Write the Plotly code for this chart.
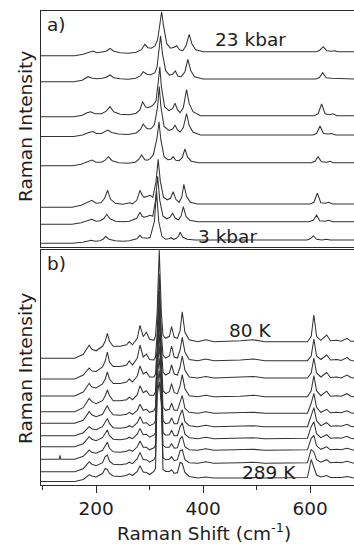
import plotly.graph_objects as go

# ---------------- Panel a) : pressure series (top = 23 kbar, bottom = 3 kbar) ----------------
a_names = ["23 kbar", "p2", "p3", "p4", "p5", "p6", "p7", "3 kbar"]
a_offset = [191.3, 165.3, 130.3, 110.5, 81.3, 39.7, 22.7, 3.7]
a_shift = [
    [97, 160, 176, 186, 194, 202, 211, 219, 226, 233, 245, 260, 275, 285, 291, 297, 303, 310, 315, 319, 322.5, 326, 332, 339, 346, 350.5, 356, 362, 368, 374, 379, 386, 400, 612, 618, 624.5, 631, 640, 646, 652, 682],
    [97, 158, 174, 185, 193, 202, 211, 219, 226, 233, 245, 260, 274, 283, 288, 295, 302, 310, 314, 317.5, 320.5, 324, 330, 337, 343, 348, 353, 359, 366, 371.5, 377, 384, 400, 610, 617, 623.5, 630, 640, 682],
    [97, 158, 174, 183, 190, 198, 210, 219, 226, 233, 245, 262, 275, 282, 287, 292, 296, 302, 307, 312, 316, 319, 322, 328, 336, 343, 347.5, 352, 357, 363, 369, 374, 381, 395, 608, 615, 621.5, 628, 637, 643, 650, 682],
    [97, 158, 175, 186, 194, 201, 210, 216, 222, 229, 242, 260, 275, 283, 288, 294, 298, 303, 309, 315, 318, 321, 327, 336, 343, 347.5, 352, 357, 363, 369, 374, 381, 395, 605, 612, 618.5, 625, 634, 640, 648, 682],
    [97, 156, 172, 184, 192, 200, 210, 217, 223, 230, 242, 260, 273, 280, 285, 291, 296, 301, 307, 314, 317.5, 321, 327, 334, 340, 344, 349, 355, 361, 366, 371, 378, 392, 602, 609, 615, 621, 631, 637, 644, 682],
    [97, 155, 172, 184, 192, 200, 209, 216, 221.5, 227, 236, 250, 258, 263, 268, 276, 282, 286, 290, 296, 301, 306, 312, 316, 320, 326, 333, 339, 344, 349, 355, 360, 364, 369, 376, 390, 600, 607, 613.5, 620, 629, 635, 642, 682],
    [97, 155, 172, 184, 192, 200, 208, 215, 220, 226, 236, 250, 262, 276, 282, 286, 290, 296, 301, 306, 311, 315, 319, 325, 332, 338, 343, 348, 354, 359, 363, 368, 375, 390, 598, 606, 612, 618, 628, 635, 642, 682],
    [97, 155, 175, 184, 191, 198, 207, 213, 218, 224, 236, 250, 262, 276, 282, 286, 290, 296, 301, 309, 313, 317, 323, 330, 336, 340, 345, 350, 354, 357, 362, 370, 385, 594, 600, 606, 612, 622, 630, 638, 682],
]
a_intensity = [
    [0, 0, 1.5, 3.5, 4.7, 3, 3.5, 4.5, 7.4, 4.5, 3, 2.5, 3.5, 6, 11.4, 8, 7.5, 9.7, 16, 32, 44, 30, 12, 7.5, 8.5, 10, 6, 5, 10, 21.4, 12, 6, 4, 4, 5.5, 9, 5, 4.5, 5, 4, 4],
    [0, 0, 1.5, 5, 3.5, 3, 3.5, 4.5, 6.7, 4, 3, 2.5, 3.5, 6, 10, 7.5, 7, 9, 15, 30, 46, 28, 11, 6.5, 7.5, 10.7, 5.5, 5, 10, 22.4, 11, 5, 2.7, 2.7, 4, 9, 4, 3.5, 2.7],
    [0, 0, 1.5, 4, 5, 3, 3, 5.5, 10, 5, 2.5, 2, 3.5, 7, 15, 10, 9, 10, 12, 16, 34, 50, 30, 10, 6, 8, 13.4, 7, 4, 9, 27, 13, 5, 1, 1, 3, 12.7, 3, 2, 3, 1, 1],
    [0, 0, 1.5, 4, 5, 3, 3, 4.5, 6.5, 4, 2.5, 2, 3.5, 7, 12.5, 8.5, 7.5, 8, 12, 30, 50, 30, 10, 6, 7.5, 11.5, 6.5, 4.5, 9, 23, 11, 4.5, 1.5, 1.5, 3, 10.5, 3, 2.5, 3, 1.5, 1.5],
    [0, 0, 1.5, 4.5, 5.7, 3.5, 3.5, 5.5, 9, 5, 3, 2.5, 3.5, 6.5, 10.7, 6, 5.5, 7, 11, 28, 44, 26, 9, 6, 6.5, 9, 5.5, 5, 8, 16.7, 8.5, 4.5, 3, 3, 4.5, 9, 4, 3.5, 4.5, 3, 3],
    [0, 0, 2, 5.5, 7, 4, 4.5, 9, 17, 8, 4, 3, 3.5, 4.5, 3.5, 7, 17, 12, 10, 11, 12, 10, 26, 48, 26, 10, 7.5, 9, 15.6, 8, 5, 10, 23, 11, 5, 3.3, 3.3, 5, 14, 4.5, 4, 5, 3.3, 3.3],
    [0, 0, 1.5, 4, 5, 3, 3.5, 6, 10, 5.5, 3, 2.5, 3, 6, 12, 8, 7, 8, 9, 8, 24, 48, 24, 8, 5.5, 7, 11, 6, 4.5, 8.5, 17.6, 8, 4, 2.6, 2.6, 4, 9.3, 3.5, 3, 4, 2.6, 2.6],
    [0, 0, 1, 2.5, 3, 2, 2.5, 4, 7, 4, 2.5, 2, 2.5, 4.5, 8, 5.5, 5, 5, 6, 22, 52, 22, 7, 4, 4.5, 5.6, 4, 5, 7, 11, 6, 4, 3.3, 3.3, 4.5, 7.3, 4, 3.3, 4, 3.3, 3.3],
]

# ---------------- Panel b) : temperature series (top = 80 K, bottom = 289 K) ----------------
b_names = ["80 K", "T2", "T3", "T4", "T5", "T6", "T7", "T8", "T9", "289 K"]
b_offset = [126.2, 105.5, 88.5, 72.8, 61.2, 48.8, 37.8, 25.2, 12.8, 3.0]
b_shift = [97, 131, 132.5, 134, 160, 176, 183, 187, 192, 200, 212, 217, 221, 225, 232, 245, 257, 262, 268, 277,
           282, 288, 294, 300, 308, 311, 314, 318, 322, 325, 330, 337, 341, 346, 352, 357, 361, 366, 374, 390,
           405, 420, 470, 494, 515, 595, 602, 607, 612, 620, 631, 638, 650, 658, 669, 676, 682]
b_intensity = [
    [0, 0, 0, 0, 0, 4, 9, 13, 9, 7.5, 12, 17, 25, 17, 12, 12, 13.5, 16.7, 13.5, 20, 33, 21.6, 26, 19, 18, 22, 45, 108, 45, 23, 20, 22, 31.6, 21, 20, 28, 46.6, 26, 18.5, 16.6, 18.5, 16.6, 17.5, 18.5, 16.6, 16.6, 22, 43.3, 22, 18, 23.3, 17.5, 18, 17, 20, 17, 17],
    [0, 0, 0, 0, 0, 4, 8, 11, 8, 7.5, 12, 18, 27, 17, 12.5, 12.5, 14, 18, 14, 21, 34, 22, 25, 19.5, 19, 22, 45, 105, 45, 24, 21, 23, 33, 22, 21, 29, 41.7, 27, 19.5, 18.3, 20, 18.3, 19, 20, 18.3, 18.3, 23, 40, 23, 19.5, 24, 19, 19.5, 18.5, 21.5, 18.5, 18.3],
    [0, 0, 0, 0, 0, 4, 9, 12.7, 9, 8, 12, 17, 24, 17, 12.5, 12.5, 14, 17, 14, 20, 30, 22, 24, 19, 19, 22, 48, 105, 48, 24, 21, 23, 31, 22, 21, 29, 40, 26, 19, 18, 19.5, 18, 19, 19.5, 18, 18, 23, 38, 23, 19, 23.5, 18.5, 19, 18, 21, 18.5, 18],
    [0, 0, 0, 0, 0, 4, 10, 13.3, 10, 8, 11, 16, 21.7, 16, 11, 11, 12, 14.5, 12, 17, 26, 19, 21, 16.5, 16.5, 20, 52, 105, 52, 21, 18, 20, 28, 19, 18, 26, 37, 23, 16, 15, 16.5, 15, 15.5, 16.5, 15, 15, 21, 36, 21, 16, 20.5, 15.5, 16, 15.5, 18, 15.5, 15],
    [0, 0, 0, 0, 0, 3, 8.5, 11.7, 8.5, 6.5, 9, 14, 17.7, 13, 8.5, 8, 9, 11, 9, 13, 19, 13, 14, 11, 12.5, 16, 65, 103, 60, 16, 13, 14, 20, 13, 13, 21, 28, 15, 11, 10, 11.5, 10, 10.5, 11, 10, 10, 20, 30, 16, 11, 14, 10.5, 11, 10.5, 12.5, 10.5, 10],
    [0, 0, 0, 0, 0, 3, 7, 9, 7, 6, 9, 14, 17.3, 12, 8, 7.5, 8.5, 10, 8.5, 13, 19, 12.5, 13, 10, 12, 15, 72, 102, 66, 15, 12, 13, 18, 12, 12, 21, 26, 14, 10, 9, 10.5, 9, 9.5, 10, 9, 9, 20, 28, 15, 10, 13, 9.5, 10, 9.5, 11.5, 9.5, 9],
    [0, 0, 0, 0, 0, 3, 8, 10, 7.5, 6, 9, 14, 16.7, 11, 7.5, 7, 8, 9.5, 8, 12.5, 18.3, 12, 12.5, 9.5, 11.5, 14, 76, 101, 70, 14, 11.5, 12, 16.5, 11, 11, 20, 24, 12.5, 9, 8, 9.5, 8, 8.5, 9, 8, 8.5, 20, 25, 13, 9, 12, 8.5, 9, 8.5, 10.5, 8.5, 8],
    [0, 0, 4, 0, 0, 3, 7, 9.3, 7, 6, 9, 14, 17, 11, 7.5, 7, 8, 9.5, 8, 12.5, 18.3, 12, 12, 9.5, 11.5, 14, 80, 101, 72, 14, 12, 12, 15.5, 11, 11.5, 20.5, 23, 12.5, 9.5, 9, 10.5, 9, 9.5, 10, 9, 9.5, 21, 24, 13.5, 10, 12.5, 9.5, 10, 9.5, 11, 9.5, 9],
    [0, 0, 0, 0, 0, 3, 8, 10, 7.5, 6, 9, 15, 16.7, 10.5, 7.5, 7, 8, 9.5, 8, 13, 19.3, 12, 12, 9.5, 12, 15, 82, 101, 74, 14, 12, 12.5, 15, 11, 12, 21, 22, 12, 9, 8.5, 10, 8.5, 9, 9.5, 8.5, 9, 22, 20, 12, 9.5, 12, 9, 9.5, 9, 10.5, 9, 8.5],
    [0, 0, 0, 0, 0, 2, 5, 6.7, 5.5, 4.5, 8, 13, 12, 8, 5.5, 5, 6, 7.7, 6, 10, 15.7, 9.5, 9, 7, 10, 13, 85, 100, 76, 12, 10, 10, 11.7, 8, 9, 19, 18, 9, 5, 3.5, 4.5, 3.5, 3.5, 4, 3.5, 4, 22, 14, 6.5, 4.5, 6, 4, 4, 4, 5, 4, 3.5],
]

x_range = [97, 682]
x_tick_step = 200

# ---------------- figure ----------------
W, H = 354, 546
FONT = "DejaVu Sans, Liberation Sans, Arial, sans-serif"
LINE = "#333333"
TXT = "#1e1e1e"
FS = 18.5


def px(x):
    return x / W


def py(y):
    return 1 - y / H


fig = go.Figure()

for name, xs, ys, off in zip(a_names, a_shift, a_intensity, a_offset):
    fig.add_trace(go.Scatter(x=xs, y=[off + v for v in ys], mode="lines", name=name,
                             line=dict(color=LINE, width=1.05), xaxis="x", yaxis="y",
                             hoverinfo="skip"))

for name, ys, off in zip(b_names, b_intensity, b_offset):
    fig.add_trace(go.Scatter(x=b_shift, y=[off + v for v in ys], mode="lines", name=name,
                             line=dict(color=LINE, width=1.05), xaxis="x2", yaxis="y2",
                             hoverinfo="skip"))

x_dom = [px(41), 1.0]
common_x = dict(range=x_range, showgrid=False, zeroline=False, showline=True, mirror=True,
                linecolor="#2a2a2a", linewidth=1.3)
common_y = dict(showgrid=False, zeroline=False, showline=True, mirror=False,
                linecolor="#2a2a2a", linewidth=1.3, showticklabels=False, ticks="")

fig.update_layout(
    width=W, height=H,
    margin=dict(l=0, r=0, t=0, b=0),
    paper_bgcolor="white", plot_bgcolor="white",
    showlegend=False,
    font=dict(family=FONT, size=FS, color=TXT),
    xaxis=dict(domain=x_dom, anchor="y", showticklabels=False, ticks="", **common_x),
    yaxis=dict(domain=[py(247), py(11)], range=[0, 236], anchor="x", **common_y),
    xaxis2=dict(domain=x_dom, anchor="y2", ticks="outside", ticklen=7, tickwidth=1,
                tickcolor="#2a2a2a", dtick=x_tick_step, tick0=0,
                tickfont=dict(family=FONT, size=FS, color=TXT),
                minor=dict(ticks="outside", ticklen=4, dtick=100, tick0=0,
                           tickcolor="#2a2a2a", tickwidth=1),
                **common_x),
    yaxis2=dict(domain=[py(484.5), py(250)], range=[0, 234.5], anchor="x2", **common_y),
)

ann = [
    ("a)", 56, 25, 0), ("b)", 57, 263, 0),
    ("23 kbar", 250, 40, 0), ("3 kbar", 228, 236, 0),
    ("80 K", 250, 330, 0), ("289 K", 269, 472, 0),
    ("Raman Intensity", 25, 127, -90), ("Raman Intensity", 25, 369, -90),
    ("Raman Shift (cm<sup>-1</sup>)", 204, 532, 0),
]
for text, x, y, ang in ann:
    fig.add_annotation(text=text, x=px(x), y=py(y), xref="paper", yref="paper",
                       xanchor="center", yanchor="middle", showarrow=False,
                       textangle=ang, font=dict(family=FONT, size=FS, color=TXT))

fig.write_html("out.html")
